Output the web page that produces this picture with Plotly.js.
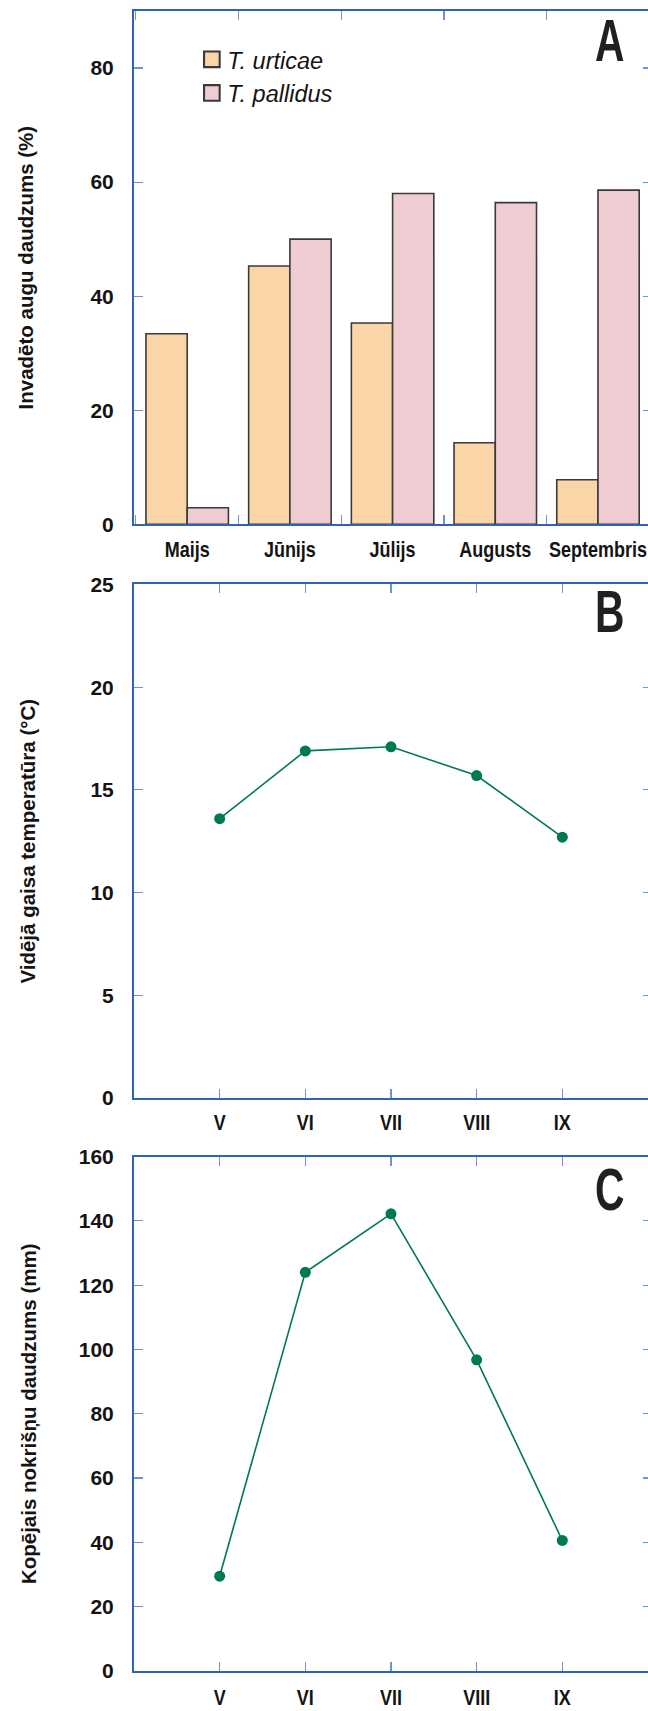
<!DOCTYPE html>
<html>
<head>
<meta charset="utf-8">
<script src="https://cdn.plot.ly/plotly-3.0.1.min.js"></script>
<style>
  html, body { margin: 0; padding: 0; overflow: hidden; background: #fff; }
  #chart { width: 652px; height: 1711px; }
</style>
</head>
<body>
<div id="chart"></div>
<script>
// ---- data ----
const months = ['Maijs', 'Jūnijs', 'Jūlijs', 'Augusts', 'Septembris'];
const urticae = [33.4, 45.3, 35.3, 14.3, 7.8];
const pallidus = [2.9, 50.0, 58.0, 56.4, 58.6];
const romanMonths = ['V', 'VI', 'VII', 'VIII', 'IX'];
const temperature = [13.6, 16.9, 17.1, 15.7, 12.7];
const precipitation = [29.5, 124.0, 142.2, 96.8, 40.6];

// ---- styles ----
const SANS = 'Liberation Sans, Arial, Helvetica, sans-serif';
const AXIS_BLUE = '#2f63b3';
const TICK_BLUE = '#6b96d3';
const GREEN = '#007a4d';

const yTickFont = { family: SANS, size: 21, color: '#141414', weight: 'bold' };
const xTickFont = { family: SANS, size: 22.5, color: '#141414', weight: 'bold' };
const titleFont = { family: SANS, size: 20.5, color: '#141414', weight: 'bold' };

function baseAxis(extra) {
  return Object.assign({
    showline: true, linecolor: AXIS_BLUE, linewidth: 2, mirror: 'allticks',
    ticks: 'inside', ticklen: 9, tickwidth: 1.2, tickcolor: TICK_BLUE,
    showgrid: false, zeroline: false, fixedrange: true
  }, extra);
}

const traces = [
  { type: 'bar', x: months, y: urticae, name: '<i>T. urticae</i>',
    marker: { color: '#fbd5a8', line: { color: '#3a3a3a', width: 1.6 } },
    xaxis: 'x', yaxis: 'y', legendgroup: 'a' },
  { type: 'bar', x: months, y: pallidus, name: '<i>T. pallidus</i>',
    marker: { color: '#efcbd2', line: { color: '#3a3a3a', width: 1.6 } },
    xaxis: 'x', yaxis: 'y', legendgroup: 'b' },
  { type: 'scatter', mode: 'lines+markers', x: romanMonths, y: temperature,
    line: { color: GREEN, width: 1.6 }, marker: { color: GREEN, size: 11 },
    xaxis: 'x2', yaxis: 'y2', showlegend: false },
  { type: 'scatter', mode: 'lines+markers', x: romanMonths, y: precipitation,
    line: { color: GREEN, width: 1.6 }, marker: { color: GREEN, size: 11 },
    xaxis: 'x3', yaxis: 'y3', showlegend: false }
];

const layout = {
  width: 652, height: 1711,
  margin: { l: 133.5, r: 0, t: 11, b: 40 },
  paper_bgcolor: '#fff', plot_bgcolor: '#fff',
  barmode: 'group', bargap: 0.197, bargroupgap: 0,
  showlegend: true,
  legend: {
    x: 0.103, y: 0.984, xanchor: 'left', yanchor: 'top',
    bgcolor: 'rgba(0,0,0,0)', borderwidth: 0,
    font: { family: SANS, size: 23.5, color: '#141414' },
    tracegroupgap: 6, traceorder: 'normal'
  },
  xaxis: baseAxis({ anchor: 'y', type: 'category', range: [-0.518, 4.526],
    tickson: 'boundaries', tickfont: xTickFont, tickangle: 0, ticklabelstandoff: 4 }),
  yaxis: baseAxis({ anchor: 'x', domain: [0.69078, 1], range: [0, 90],
    tickvals: [0, 20, 40, 60, 80], tickfont: yTickFont, ticklabelstandoff: 14,
    title: { text: 'Invadēto augu daudzums (%)', font: titleFont, standoff: 51 } }),
  xaxis2: baseAxis({ anchor: 'y2', type: 'category', range: [-1, 5.047],
    tickfont: xTickFont, tickangle: 0, ticklabelstandoff: 3 }),
  yaxis2: baseAxis({ anchor: 'x2', domain: [0.34518, 0.65452], range: [0, 25],
    dtick: 5, tickfont: yTickFont, ticklabelstandoff: 14,
    title: { text: 'Vidējā gaisa temperatūra (°C)', font: titleFont, standoff: 49 } }),
  xaxis3: baseAxis({ anchor: 'y3', type: 'category', range: [-1, 5.047],
    tickfont: xTickFont, tickangle: 0, ticklabelstandoff: 5 }),
  yaxis3: baseAxis({ anchor: 'x3', domain: [0, 0.30988], range: [0, 160],
    dtick: 20, tickfont: yTickFont, ticklabelstandoff: 14,
    title: { text: 'Kopējais nokrišņu daudzums (mm)', font: titleFont, standoff: 37 } }),
  annotations: [
    { text: 'A', xref: 'x domain', yref: 'y domain', x: 0.918, y: 0.943 },
    { text: 'B', xref: 'x2 domain', yref: 'y2 domain', x: 0.918, y: 0.948 },
    { text: 'C', xref: 'x3 domain', yref: 'y3 domain', x: 0.918, y: 0.937 }
  ].map(a => Object.assign(a, {
    showarrow: false, xanchor: 'center', yanchor: 'middle',
    font: { family: SANS, size: 60, color: '#231f20', weight: 'bold' }
  }))
};

// narrow the condensed-looking labels horizontally (no condensed font is installed)
function condense(selector, s) {
  document.querySelectorAll(selector).forEach(function (t) {
    const cx = parseFloat(t.getAttribute('x') || '0');
    const tr = t.getAttribute('transform') || '';
    t.setAttribute('transform', tr + ' translate(' + cx + ',0) scale(' + s + ',1) translate(' + (-cx) + ',0)');
  });
}

Plotly.newPlot('chart', traces, layout, { displayModeBar: false, responsive: false, staticPlot: true })
  .then(function () {
    try {
      condense('#chart .xtick text, #chart .x2tick text, #chart .x3tick text', 0.8);
      condense('#chart .annotation-text-g text', 0.68);
      document.querySelectorAll('#chart .legendpoints path').forEach(function (p) {
        const tr = p.getAttribute('transform') || '';
        p.setAttribute('transform', tr + ' translate(4.5,0) scale(1.3)');
      });
    } catch (e) { /* keep the plain rendering */ }
  });
</script>
</body>
</html>
